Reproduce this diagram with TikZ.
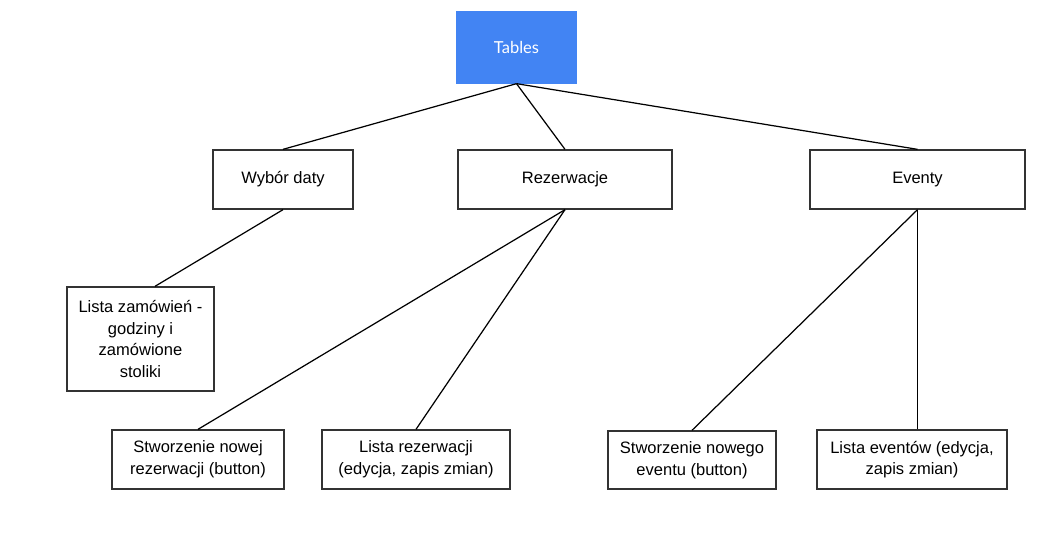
\documentclass[tikz,border=0pt]{standalone}
\usepackage{fontspec}
\setmainfont{Liberation Sans}
\newfontfamily\latofont{Lato}
\usepackage{tikz}
\usetikzlibrary{positioning}
\usepackage{xcolor}
\definecolor{tblue}{HTML}{4284F3}
\definecolor{tgray}{HTML}{333333}

\tikzset{
	box/.style = {draw = tgray, line width = 0.75pt, inner sep = 0pt, align = center,
		font = \fontsize{9.4}{12.3}\selectfont, minimum height = 1.18cm},
	link/.style = {line width = 0.7pt}
}

\begin{document}
\begin{tikzpicture}[x = 0.02cm, y = -0.02cm]
		\useasboundingbox (0,0) rectangle (1063,537);
		\draw (516.5,47.5) node[box, draw = tblue, fill = tblue, text = white, minimum width = 2.38cm, minimum height = 1.42cm, font = \latofont\fontsize{9.4}{12}\selectfont] (tables) {Tables}
		(283,179.5) node[box, minimum width = 2.8cm] (wybor) {Wybór daty}
		(565,179.5) node[box, minimum width = 4.28cm] (rez) {Rezerwacje}
		(917.5,179.5) node[box, minimum width = 4.3cm] (eventy) {Eventy}
		(140.5,339) node[box, minimum width = 2.94cm, minimum height = 2.08cm] (lzam) {Lista zamówień -\\ godziny i\\ zamówione\\ stoliki}
		(198,459.5) node[box, minimum width = 3.44cm] (nrez) {Stworzenie nowej\\ rezerwacji (button)}
		(416,459.5) node[box, minimum width = 3.76cm] (lrez) {Lista rezerwacji\\ (edycja, zapis zmian)}
		(692,460) node[box, minimum width = 3.36cm, minimum height = 1.16cm] (nevent) {Stworzenie nowego\\ eventu (button)}
		(912,459.5) node[box, minimum width = 3.8cm] (levent) {Lista eventów (edycja,\\ zapis zmian)};
		
		\draw[link] (tables.south) -- (wybor.north);
		\draw[link] (tables.south) -- (rez.north);
		\draw[link] (tables.south) -- (eventy.north);
		\draw[link] (wybor.south) -- ([xshift = 0.29cm]lzam.north);
		\draw[link] (rez.south) -- (nrez.north);
		\draw[link] (rez.south) -- (lrez.north);
		\draw[link] (eventy.south) -- (nevent.north);
		\draw[link] (eventy.south) -- (eventy.south |- levent.north);
	\end{tikzpicture}
\end{document}
